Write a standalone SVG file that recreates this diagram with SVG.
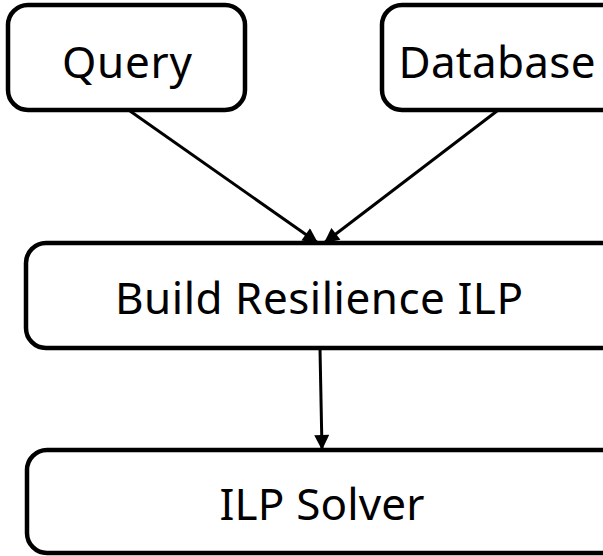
<svg xmlns="http://www.w3.org/2000/svg" width="603" height="556" viewBox="0 0 603 556">
<style>
.box{fill:#fff;stroke:#000;stroke-width:4.5}
.lbl{font-family:"Noto Sans","Open Sans",sans-serif;font-size:44px;fill:#000;text-anchor:middle}
.conn{stroke:#000;stroke-width:3;fill:none;marker-end:url(#ah)}
</style>
<defs>
<marker id="ah" viewBox="0 0 10 10" refX="10" refY="5" markerWidth="5.5" markerHeight="5" orient="auto" markerUnits="strokeWidth">
<path d="M0,0 L10,5 L0,10 z" fill="#000"/>
</marker>
</defs>
<g id="query"><rect class="box" x="8" y="5" width="237" height="105" rx="20"/><text class="lbl" x="127" y="78" textLength="130">Query</text></g>
<g id="database"><rect class="box" x="382" y="5" width="260" height="105" rx="20"/><text class="lbl" x="497" y="78" textLength="197">Database</text></g>
<g id="build"><rect class="box" x="26" y="243" width="620" height="105" rx="20"/><text class="lbl" x="319" y="314" textLength="408">Build Resilience ILP</text></g>
<g id="solver"><rect class="box" x="27" y="450" width="620" height="103" rx="20"/><text class="lbl" x="322" y="520" textLength="205">ILP Solver</text></g>
<g id="connectors">
<line class="conn" x1="130" y1="111" x2="318" y2="243"/>
<line class="conn" x1="497" y1="111" x2="324" y2="243"/>
<line class="conn" x1="320" y1="349" x2="322" y2="450"/>
</g>
</svg>
